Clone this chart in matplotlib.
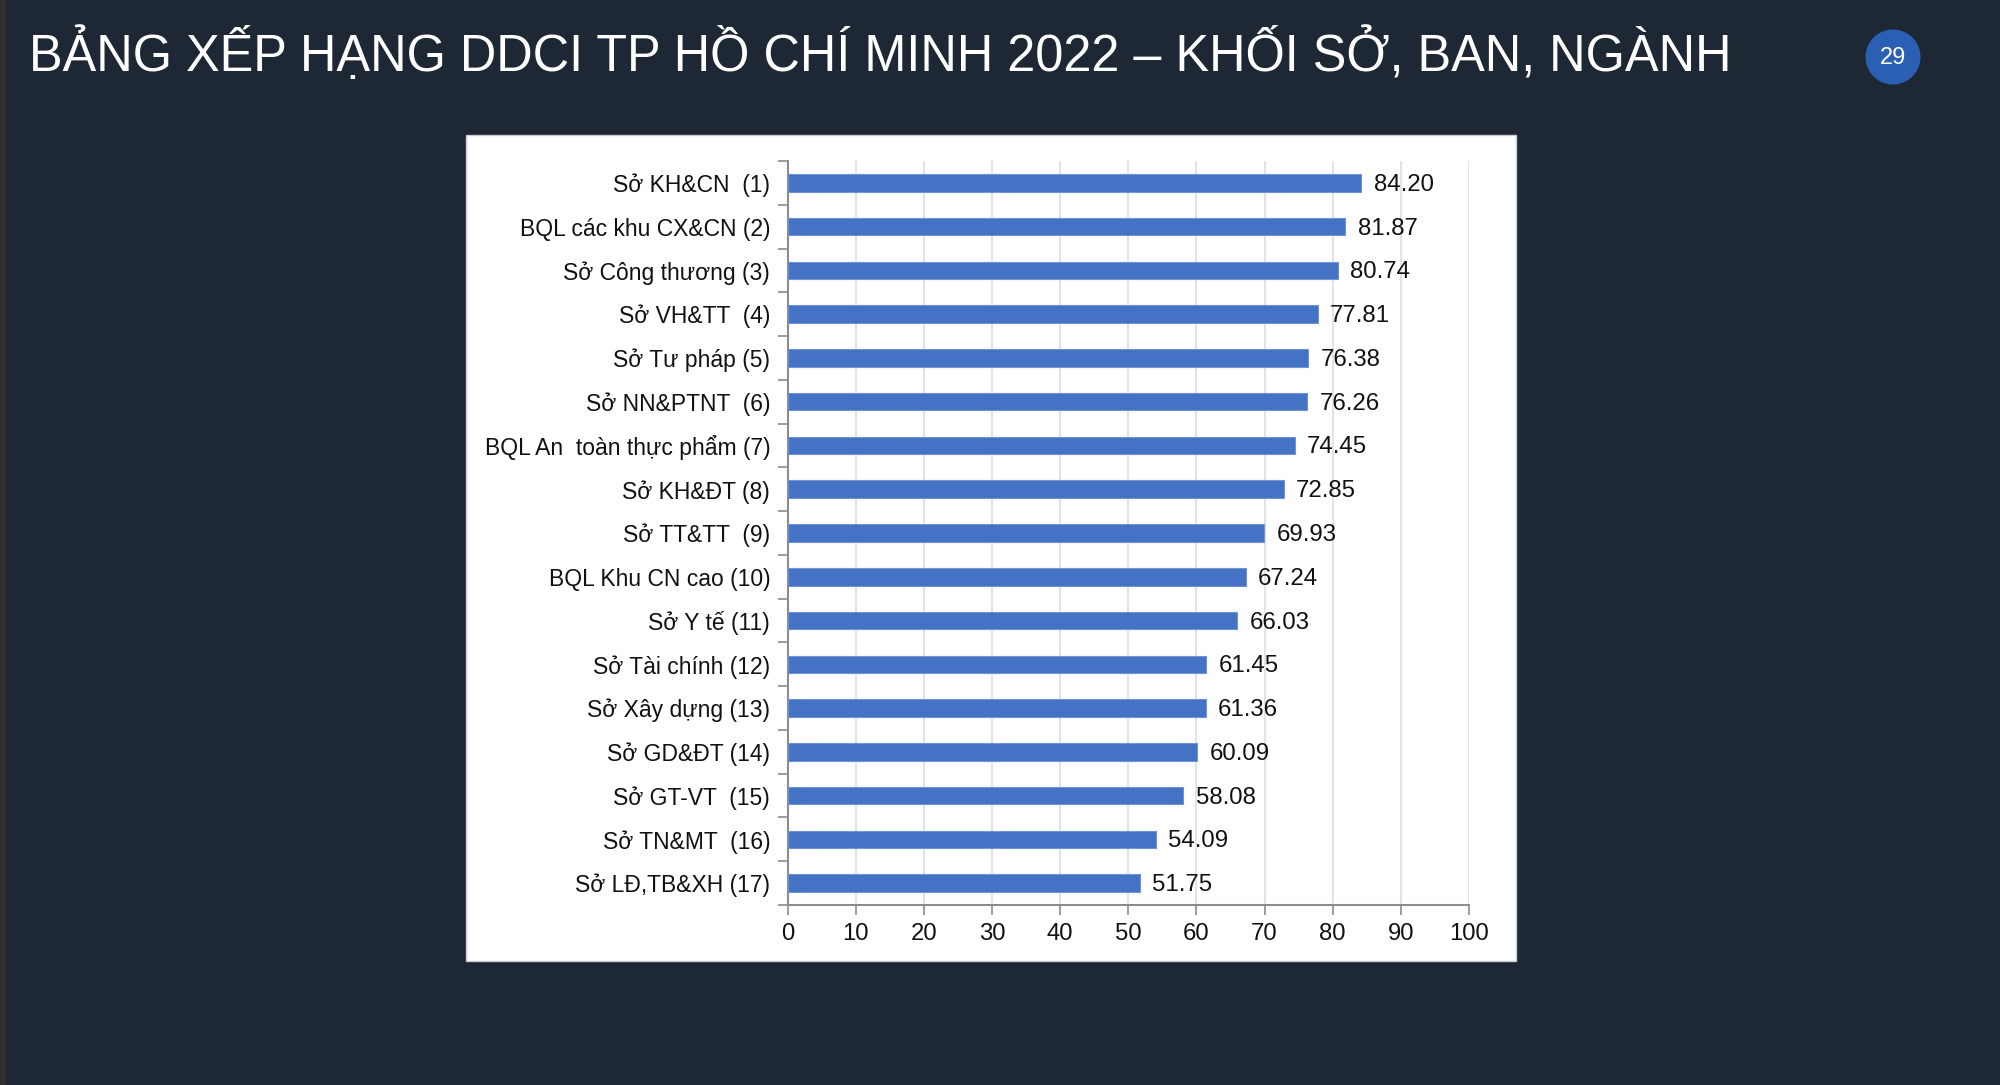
import matplotlib
matplotlib.use("Agg")
import matplotlib.pyplot as plt
from matplotlib.patches import Rectangle, Circle
from matplotlib.transforms import offset_copy

plt.rcParams['font.family'] = ['Liberation Sans', 'DejaVu Sans']

categories = [
    "Sở KH&CN  (1)", "BQL các khu CX&CN (2)", "Sở Công thương (3)", "Sở VH&TT  (4)",
    "Sở Tư pháp (5)", "Sở NN&PTNT  (6)", "BQL An  toàn thực phẩm (7)", "Sở KH&ĐT (8)",
    "Sở TT&TT  (9)", "BQL Khu CN cao (10)", "Sở Y tế (11)", "Sở Tài chính (12)",
    "Sở Xây dựng (13)", "Sở GD&ĐT (14)", "Sở GT-VT  (15)", "Sở TN&MT  (16)",
    "Sở LĐ,TB&XH (17)",
]
values = [84.20, 81.87, 80.74, 77.81, 76.38, 76.26, 74.45, 72.85, 69.93, 67.24,
          66.03, 61.45, 61.36, 60.09, 58.08, 54.09, 51.75]
x_ticks = [0, 10, 20, 30, 40, 50, 60, 70, 80, 90, 100]
title = "BẢNG XẾP HẠNG DDCI TP HỒ CHÍ MINH 2022 – KHỐI SỞ, BAN, NGÀNH"
page_no = "29"

W, H = 2000, 1085
fig = plt.figure(figsize=(W / 100, H / 100), dpi=100)
fig.patch.set_facecolor("#1e2734")

# background overlay axes (pixel coordinates)
bg = fig.add_axes([0, 0, 1, 1], facecolor="none", zorder=-5)
bg.set_xlim(0, W)
bg.set_ylim(H, 0)
bg.axis("off")
bg.add_patch(Rectangle((0, 0), 6, H, facecolor="#2e2e2e", edgecolor="none"))
bg.add_patch(Rectangle((466, 135), 1516 - 466, 961 - 135, facecolor="white",
                       edgecolor="#c8ccd2", linewidth=1))
bg.add_patch(Circle((1893, 57), 27.5, facecolor="#2b5fb4", edgecolor="none"))
bg.text(1893, 58, page_no, color="white", fontsize=17, ha="center", va="center")
bg.text(29, 55, title, color="white", fontsize=36.4, ha="left", va="center")

# chart axes
ax_l, ax_r, ax_t, ax_b = 787.5, 1469, 161, 905
ax = fig.add_axes([ax_l / W, 1 - ax_b / H, (ax_r - ax_l) / W, (ax_b - ax_t) / H],
                  zorder=1)
ax.set_facecolor("white")
n = len(categories)
ypos = list(range(n))
ax.barh(ypos, values, height=0.4, color="#4472c4", edgecolor="#6f93d6",
        linewidth=0.8, zorder=3)
lbl_tr = offset_copy(ax.transData, fig=fig, x=0, y=-2, units="dots")
for y, v in zip(ypos, values):
    ax.text(v + 1.8, y, f"{v:.2f}", ha="left", va="center", fontsize=17.3,
            color="#111111", zorder=4, transform=lbl_tr)

ax.set_xlim(0, 100)
ax.set_ylim(n - 0.5, -0.5)
ax.set_xticks(x_ticks)
ax.set_xticklabels([str(t) for t in x_ticks], fontsize=17.2, color="#111111")
ax.set_yticks(ypos)
ax.set_yticklabels(categories, fontsize=16.5, color="#111111")
ax.set_yticks([k - 0.5 for k in range(n + 1)], minor=True)
ax.tick_params(axis="y", which="major", length=0, pad=12.5)
ax.tick_params(axis="y", which="minor", length=7, color="#8c8c8c", width=1.2)
ax.tick_params(axis="x", which="major", length=7, color="#8c8c8c", width=1.2,
               pad=6)
ax.grid(axis="x", color="#dedede", linewidth=1.2, zorder=0)
for s in ["top", "right"]:
    ax.spines[s].set_visible(False)
for s in ["left", "bottom"]:
    ax.spines[s].set_color("#8c8c8c")
    ax.spines[s].set_linewidth(1.5)

fig.savefig("out.png", dpi=100, facecolor=fig.get_facecolor())
